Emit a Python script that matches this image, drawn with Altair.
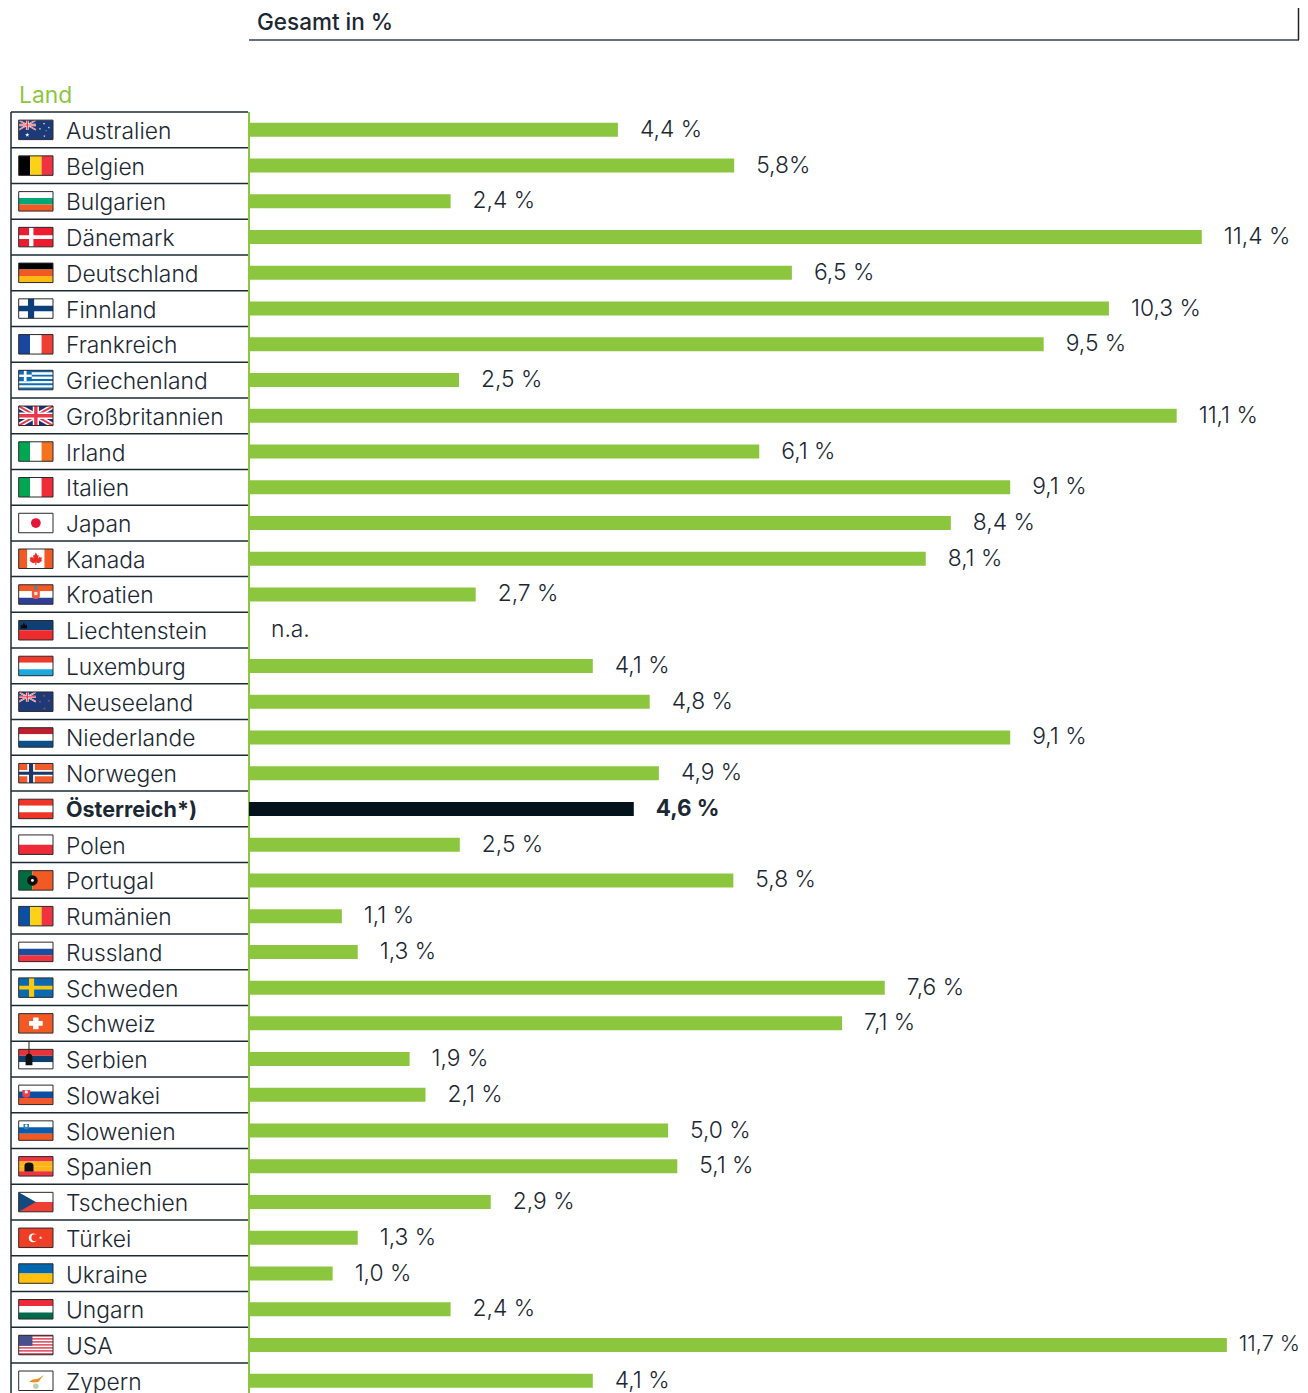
import altair as alt
import pandas as pd

FONT = "Inter"
INK = "#1b2833"
GREEN = "#8cc63f"
BLACKBAR = "#04121c"

countries = ["Australien","Belgien","Bulgarien","Dänemark","Deutschland","Finnland","Frankreich","Griechenland",
             "Großbritannien","Irland","Italien","Japan","Kanada","Kroatien","Liechtenstein","Luxemburg","Neuseeland",
             "Niederlande","Norwegen","Österreich*)","Polen","Portugal","Rumänien","Russland","Schweden","Schweiz",
             "Serbien","Slowakei","Slowenien","Spanien","Tschechien","Türkei","Ukraine","Ungarn","USA","Zypern"]
values = [4.41,5.80,2.41,11.39,6.49,10.28,9.50,2.51,11.09,6.10,9.10,8.39,8.09,2.71,None,4.11,4.79,9.10,4.90,4.60,
          2.52,5.79,1.11,1.30,7.60,7.09,1.92,2.11,5.01,5.12,2.89,1.30,1.00,2.41,11.69,4.11]
labels = ["4,4 %","5,8%","2,4 %","11,4 %","6,5 %","10,3 %","9,5 %","2,5 %","11,1 %","6,1 %","9,1 %","8,4 %","8,1 %",
          "2,7 %","n.a.","4,1 %","4,8 %","9,1 %","4,9 %","4,6 %","2,5 %","5,8 %","1,1 %","1,3 %","7,6 %","7,1 %",
          "1,9 %","2,1 %","5,0 %","5,1 %","2,9 %","1,3 %","1,0 %","2,4 %","11,7 %","4,1 %"]
HIGHLIGHT = "Österreich*)"
TIGHT = "USA"

# flag designs: stripes, then overlay rectangles, diagonal lines, symbols
RED, ORG, NAVY, BLUE, WH = "#ef3340", "#f15a24", "#1c3a78", "#0b4ea2", "#ffffff"
STAR = "M0,-1L0.22,-0.31L0.95,-0.31L0.36,0.12L0.59,0.81L0,0.38L-0.59,0.81L-0.36,0.12L-0.95,-0.31L-0.22,-0.31Z"
SHIELD = "M-1,-1L1,-1L1,0.3Q1,1 0,1Q-1,1 -1,0.3Z"
LEAF = "M0,-1L0.25,-0.5L0.45,-0.6L0.35,-0.05L0.65,-0.35L0.75,-0.15L1,-0.2L0.85,0.2L1,0.3L0.45,0.7L0.08,0.6L0.08,1L-0.08,1L-0.08,0.6L-0.45,0.7L-1,0.3L-0.85,0.2L-1,-0.2L-0.75,-0.15L-0.65,-0.35L-0.35,-0.05L-0.45,-0.6L-0.25,-0.5Z"
ISLAND = "M-1,0.35L-0.5,0.05L0.2,-0.05L1,-0.55L0.55,-0.05L0.3,0.35L-0.3,0.45Z"
CROWN = "M-1,1L-1,-0.2L-0.4,0L0,-1L0.4,0L1,-0.2L1,1Z"
BLOB = "M-0.6,1L-0.6,-0.3Q-0.6,-1 0,-1Q0.6,-1 0.6,-0.3L0.6,1Z"
ARCH = "M-0.9,0.9L-0.9,-0.3Q-0.9,-0.9 0,-0.9Q0.9,-0.9 0.9,-0.3L0.9,0.9Z"


def uk_lines(x1, y1, w1, w2):
    return [(0, 0, x1, y1, WH, w1), (0, y1, x1, 0, WH, w1), (0, 0, x1, y1, "#e8394a", w2), (0, y1, x1, 0, "#e8394a", w2)]


def uk_top(x1, y1, a, b, c, d):
    return [(x1*(.5-a), x1*(.5+a), 0, y1, WH), (0, x1, y1*(.5-b), y1*(.5+b), WH),
            (x1*(.5-c), x1*(.5+c), 0, y1, "#e8394a"), (0, x1, y1*(.5-d), y1*(.5+d), "#e8394a")]


GR_B, GR_W = "#0f6db4", WH
flags = {
 "Australien": dict(bg=NAVY, lines=uk_lines(.5, .5, 1.6, .7), top=uk_top(.5, .5, .08, .12, .04, .06),
     pts=[(.25, .76, 22, WH, STAR), (.74, .18, 6, WH, STAR), (.62, .45, 6, WH, STAR), (.88, .38, 6, WH, STAR), (.75, .82, 6, WH, STAR), (.8, .55, 2, WH, STAR)]),
 "Belgien": dict(v=["#000000", "#fcd116", "#ef3340"]),
 "Bulgarien": dict(h=[WH, "#00a878", ORG]),
 "Dänemark": dict(bg="#ed1c2e", top=[(0, 1, .4, .6, WH), (.3, .43, 0, 1, WH)]),
 "Deutschland": dict(h=["#000000", ORG, "#fdb913"]),
 "Finnland": dict(bg=WH, top=[(0, 1, .36, .64, "#0d3f7c"), (.27, .45, 0, 1, "#0d3f7c")]),
 "Frankreich": dict(v=["#17479e", WH, "#ef3e33"]),
 "Griechenland": dict(h=[GR_B, GR_W, GR_B, GR_W, GR_B, GR_W, GR_B, GR_W, GR_B],
     top=[(0, .38, 0, .56, GR_B), (.15, .23, 0, .56, WH), (0, .38, .22, .34, WH)]),
 "Großbritannien": dict(bg="#1d2f6f", lines=uk_lines(1, 1, 5, 2), top=uk_top(1, 1, .09, .17, .05, .09)),
 "Irland": dict(v=["#00a651", WH, "#f47321"]),
 "Italien": dict(v=["#00a651", WH, "#ef2b3a"]),
 "Japan": dict(bg=WH, pts=[(.5, .5, 95, "#e4173a", "circle")]),
 "Kanada": dict(v=[ORG, WH, WH, ORG], pts=[(.5, .5, 160, "#ee2a24", LEAF)]),
 "Kroatien": dict(h=[ORG, WH, "#2e3f97"], pts=[(.5, .52, 64, "#ee5a3c", SHIELD), (.5, .45, 10, "#fbe3da", "square"), (.5, .16, 12, "#5a7f9a", "square")]),
 "Liechtenstein": dict(h=["#0f3f74", "#ef2b2d"], pts=[(.15, .25, 40, "#0a0a0a", CROWN)]),
 "Luxemburg": dict(h=["#ef3b2c", WH, "#1ba9e0"]),
 "Neuseeland": dict(bg=NAVY, lines=uk_lines(.5, .5, 1.6, .7), top=uk_top(.5, .5, .08, .12, .04, .06),
     pts=[(.74, .2, 9, "#d8394e", STAR), (.62, .5, 9, "#d8394e", STAR), (.88, .45, 9, "#d8394e", STAR), (.75, .85, 9, "#d8394e", STAR)]),
 "Niederlande": dict(h=["#bf1e2e", WH, "#0d4f8b"]),
 "Norwegen": dict(bg="#f15a2b", top=[(0, 1, .34, .66, WH), (.25, .47, 0, 1, WH), (0, 1, .42, .58, "#1b3668"), (.3, .42, 0, 1, "#1b3668")]),
 "Österreich*)": dict(h=["#ef3428", WH, "#ef3428"]),
 "Polen": dict(h=[WH, "#ef2b3a"]),
 "Portugal": dict(top=[(0, .4, 0, 1, "#006b3f"), (.4, 1, 0, 1, ORG)], pts=[(.4, .5, 110, "#111111", "circle"), (.4, .5, 8, WH, "circle")]),
 "Rumänien": dict(v=["#0b4ea2", "#fcd116", "#ef3340"]),
 "Russland": dict(h=[WH, "#1a4fa0", "#ef3340"]),
 "Schweden": dict(bg="#0a6ab0", top=[(0, 1, .4, .6, "#fcc80f"), (.3, .45, 0, 1, "#fcc80f")]),
 "Schweiz": dict(bg=ORG, top=[(.42, .58, .2, .8, WH), (.3, .7, .38, .62, WH)]),
 "Serbien": dict(h=["#ed3237", "#0f3f6e", WH], pts=[(.3, .52, 130, "#111111", BLOB)], rule=[(.3, -.4, .3, .3, "#222222", 1)]),
 "Slowakei": dict(h=[WH, "#0b4ea2", "#f1572b"], pts=[(.22, .45, 60, "#ef3f4a", SHIELD), (.22, .35, 8, WH, "square")]),
 "Slowenien": dict(h=[WH, "#0b5cab", ORG], pts=[(.22, .3, 30, "#2f7ec2", SHIELD), (.22, .25, 7, WH, "circle")]),
 "Spanien": dict(h=["#ef3340", "#fdb515", "#fdb515", "#ef3340"], pts=[(.3, .53, 100, "#111111", ARCH)]),
 "Tschechien": dict(h=[WH, "#ef3e33"], tri="#124a80"),
 "Türkei": dict(bg="#ef3e26", pts=[(.42, .5, 78, WH, "circle"), (.47, .5, 48, "#ef3e26", "circle"), (.64, .5, 14, WH, STAR)]),
 "Ukraine": dict(h=["#0067b1", "#fec10d"]),
 "Ungarn": dict(h=["#ef2b3a", WH, "#006b4a"]),
 "USA": dict(h=["#d6283c", WH] * 6 + ["#d6283c"], top=[(0, .4, 0, .54, "#47508f")]),
 "Zypern": dict(bg=WH, pts=[(.52, .42, 225, "#f28c28", ISLAND), (.5, .78, 30, "#b9d3b4", "circle")]),
}

FLAG_H = 0.545  # flag height as share of a row
def fy(row, f):
    return row + 0.5 + (f - 0.5) * FLAG_H

base, top, lines, pts, tris, frame = [], [], [], [], [], []
for r, name in enumerate(countries):
    f = flags[name]
    frame.append(dict(x0=0, x1=1, y0=fy(r, 0), y1=fy(r, 1)))
    if "bg" in f:
        base.append(dict(x0=0, x1=1, y0=fy(r, 0), y1=fy(r, 1), c=f["bg"]))
    if "h" in f:
        n = len(f["h"])
        for i, c in enumerate(f["h"]):
            base.append(dict(x0=0, x1=1, y0=fy(r, i/n), y1=fy(r, (i+1)/n), c=c))
    if "v" in f:
        n = len(f["v"])
        for i, c in enumerate(f["v"]):
            base.append(dict(x0=i/n, x1=(i+1)/n, y0=fy(r, 0), y1=fy(r, 1), c=c))
    for a, b, c_, d, col in f.get("top", []):
        top.append(dict(x0=a, x1=b, y0=fy(r, c_), y1=fy(r, d), c=col))
    for a, b, c_, d, col, w in f.get("lines", []) + f.get("rule", []):
        lines.append(dict(x0=a, y0=fy(r, b), x1=c_, y1=fy(r, d), c=col, w=w))
    for x, y, s, col, sh in f.get("pts", []):
        pts.append(dict(x=x, y=fy(r, y), s=s, c=col, sh=sh))
    if "tri" in f:
        tris.append(dict(k=name, x=0, y0=fy(r, 0), y1=fy(r, 1), c=f["tri"]))
        tris.append(dict(k=name, x=.5, y0=fy(r, .5), y1=fy(r, .5), c=f["tri"]))

W, H = 1292, 1385
PX = 83.65
X0 = 241
ROW = 35.74
TOP = 104
xscale = alt.Scale(domain=[-X0/PX, (W-X0)/PX], nice=False, zero=False, padding=0)
yscale = alt.Scale(domain=[(H-TOP)/ROW, -TOP/ROW], nice=False, zero=False, padding=0)
fscale = alt.Scale(domain=[0, 1], range=[10.7, 45], nice=False, zero=False)

df = pd.DataFrame(dict(name=countries, v=values, label=labels))
df["row"] = range(len(df))
df["yc"] = df["row"] + 0.5
df["xl"] = df["v"].fillna(0)
df["hi"] = df["name"] == HIGHLIGHT

Y = lambda f: alt.Y(f, type="quantitative", scale=yscale, axis=None)
X = lambda f: alt.X(f, type="quantitative", scale=xscale, axis=None)
FX = lambda f: alt.X(f, type="quantitative", scale=fscale, axis=None)

bars = alt.Chart(df.dropna(subset=["v"])).mark_bar(size=14, orient="horizontal").encode(
    x=X("v"), y=Y("yc"),
    color=alt.condition(alt.datum.hi, alt.value(BLACKBAR), alt.value(GREEN)))

txt = dict(font=FONT, fontSize=22.8, fontWeight=300, color=INK, baseline="middle", align="left")
vals = alt.Chart(df[(~df.hi) & (df.name != TIGHT)]).mark_text(dx=22, **txt).encode(x=X("xl"), y=Y("yc"), text="label:N")
vals_t = alt.Chart(df[df.name == TIGHT]).mark_text(dx=12, **{**txt, "fontSize": 21.6}).encode(x=X("xl"), y=Y("yc"), text="label:N")
vals_b = alt.Chart(df[df.hi]).mark_text(dx=22, **{**txt, "fontWeight": 700, "fontSize": 22.4}).encode(x=X("xl"), y=Y("yc"), text="label:N")

names = alt.Chart(df[~df.hi]).mark_text(dy=2, **txt).encode(x=alt.value(58), y=Y("yc"), text="name:N")
names_b = alt.Chart(df[df.hi]).mark_text(dy=2, **{**txt, "fontWeight": 700, "fontSize": 21.5}).encode(x=alt.value(58), y=Y("yc"), text="name:N")

grid = pd.DataFrame(dict(r=list(range(len(countries) + 1))))
hlines = alt.Chart(grid).mark_rule(color="#1c2a33", strokeWidth=1.5).encode(x=alt.value(3), x2=alt.value(240), y=Y("r"))
span = pd.DataFrame(dict(a=[0], b=[len(countries) + 1]))
vleft = alt.Chart(span).mark_rule(color="#1c2a33", strokeWidth=1.5).encode(x=alt.value(3), y=Y("a"), y2="b:Q")
vgreen = alt.Chart(span).mark_rule(color=GREEN, strokeWidth=2).encode(x=alt.value(241), y=Y("a"), y2="b:Q")

C = alt.Color("c:N", scale=None)
f_base = alt.Chart(pd.DataFrame(base)).mark_rect().encode(x=FX("x0"), x2="x1:Q", y=Y("y0"), y2="y1:Q", color=C)
f_lines = alt.Chart(pd.DataFrame(lines)).mark_rule().encode(x=FX("x0"), x2="x1:Q", y=Y("y0"), y2="y1:Q", color=C,
                                                           strokeWidth=alt.StrokeWidth("w:Q", scale=None))
f_top = alt.Chart(pd.DataFrame(top)).mark_rect().encode(x=FX("x0"), x2="x1:Q", y=Y("y0"), y2="y1:Q", color=C)
f_tri = alt.Chart(pd.DataFrame(tris)).mark_area().encode(x=FX("x"), y=Y("y0"), y2="y1:Q", color=C, detail="k:N")
f_pts = alt.Chart(pd.DataFrame(pts)).mark_point(filled=True, opacity=1, strokeWidth=0).encode(
    x=FX("x"), y=Y("y"), color=C, size=alt.Size("s:Q", scale=None), shape=alt.Shape("sh:N", scale=None),
    order=alt.Order("s:Q", sort="descending"))
f_frame = alt.Chart(pd.DataFrame(frame)).mark_rect(fillOpacity=0, stroke="#2a2a2a", strokeWidth=1).encode(
    x=FX("x0"), x2="x1:Q", y=Y("y0"), y2="y1:Q")

head_h = alt.Chart(pd.DataFrame(dict(a=[0]))).mark_rule(color="#33424d", strokeWidth=1.5).encode(
    x=alt.value(241), x2=alt.value(1291), y=alt.value(32))
head_v = alt.Chart(pd.DataFrame(dict(a=[0]))).mark_rule(color="#222222", strokeWidth=1.5).encode(
    x=alt.value(1290.5), y=alt.value(0), y2=alt.value(32))
title = alt.Chart(pd.DataFrame(dict(t=["Gesamt in %"]))).mark_text(
    font=FONT, fontSize=22.5, fontWeight=500, color=INK, baseline="middle", align="left").encode(
    x=alt.value(249), y=alt.value(15), text="t:N")
land = alt.Chart(pd.DataFrame(dict(t=["Land"]))).mark_text(
    font=FONT, fontSize=22.8, fontWeight=400, color=GREEN, baseline="middle", align="left").encode(
    x=alt.value(11), y=alt.value(87.5), text="t:N")

chart = alt.layer(
    f_base, f_lines, f_top, f_tri, f_pts, f_frame,
    hlines, vleft, vgreen, bars, vals, vals_t, vals_b, names, names_b, head_h, head_v, title, land
).resolve_scale(x="independent").properties(
    width=W, height=H, padding=0, autosize=alt.AutoSizeParams(type="none")
).configure_view(stroke=None)

chart.save("out.html", embed_options={"renderer": "svg", "actions": False})
